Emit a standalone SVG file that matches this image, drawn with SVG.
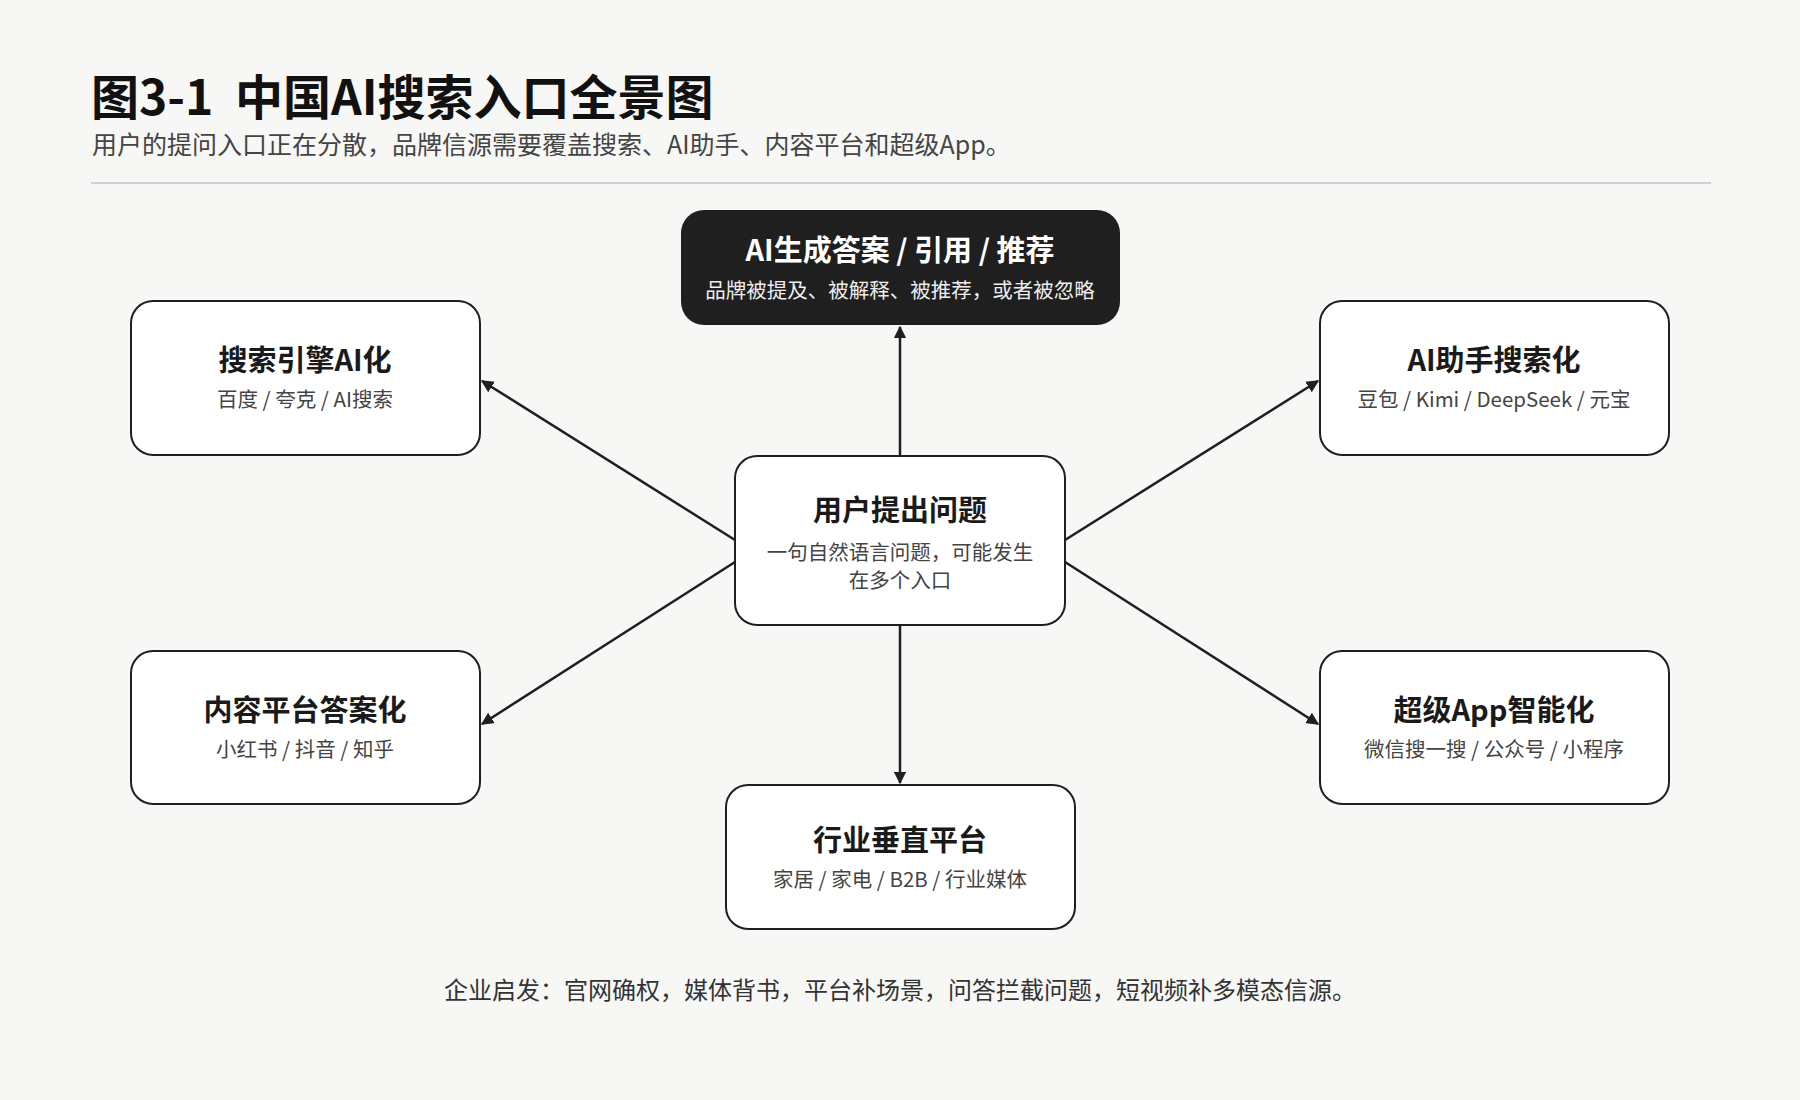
<svg xmlns="http://www.w3.org/2000/svg" width="1800" height="1100" viewBox="0 0 1800 1100">
<defs>
<style>
text{font-family:"Noto Sans CJK SC","Noto Sans",sans-serif;text-anchor:middle}
.box{fill:#fff;stroke:#1f1f1f;stroke-width:2}
.t{font-size:29px;font-weight:700;fill:#1a1a1a}
.s{font-size:20.5px;fill:#444}
.c line{stroke:#1f1f1f;stroke-width:2.5;marker-end:url(#a)}
</style>
<marker id="a" viewBox="0 0 10 10" refX="9" refY="5" markerWidth="5" markerHeight="5" orient="auto"><path d="M0,0L10,5L0,10z" fill="#1f1f1f"/></marker>
</defs>
<rect width="1800" height="1100" fill="#f7f7f5"/>
<text x="91" y="115" style="text-anchor:start;font-size:48px;font-weight:700;fill:#111">图3-1<tspan x="235">中国AI搜索入口全景图</tspan></text>
<text x="92" y="154" style="text-anchor:start;font-size:25px;fill:#444">用户的提问入口正在分散，品牌信源需要覆盖搜索、AI助手、内容平台和超级App。</text>
<line x1="91" y1="183" x2="1711" y2="183" stroke="#d0d0d0" stroke-width="2"/>
<g class="c">
<line x1="900" y1="456" x2="900" y2="327"/>
<line x1="900" y1="625" x2="900" y2="783"/>
<line x1="735" y1="540" x2="482" y2="381"/>
<line x1="735" y1="562" x2="482" y2="724"/>
<line x1="1065" y1="540" x2="1318" y2="381"/>
<line x1="1065" y1="562" x2="1318" y2="724"/>
</g>
<g id="top"><rect x="681" y="210" width="439" height="115" rx="23" fill="#1f1f1f"/>
<text x="900" y="261" class="t" style="fill:#fff">AI生成答案 / 引用 / 推荐</text>
<text x="900" y="298" class="s" style="fill:#eee">品牌被提及、被解释、被推荐，或者被忽略</text></g>
<g id="search"><rect class="box" x="131" y="301" width="349" height="154" rx="22"/>
<text x="305" y="371" class="t">搜索引擎AI化</text><text x="305" y="407" class="s">百度 / 夸克 / AI搜索</text></g>
<g id="assistant"><rect class="box" x="1320" y="301" width="349" height="154" rx="22"/>
<text x="1494" y="371" class="t">AI助手搜索化</text><text x="1494" y="407" class="s">豆包 / Kimi / DeepSeek / 元宝</text></g>
<g id="center"><rect class="box" x="735" y="456" width="330" height="169" rx="22"/>
<text x="900" y="521" class="t">用户提出问题</text><text x="900" y="560" class="s">一句自然语言问题，可能发生</text><text x="900" y="588" class="s">在多个入口</text></g>
<g id="content"><rect class="box" x="131" y="651" width="349" height="153" rx="22"/>
<text x="305" y="721" class="t">内容平台答案化</text><text x="305" y="757" class="s">小红书 / 抖音 / 知乎</text></g>
<g id="superapp"><rect class="box" x="1320" y="651" width="349" height="153" rx="22"/>
<text x="1494" y="721" class="t">超级App智能化</text><text x="1494" y="757" class="s">微信搜一搜 / 公众号 / 小程序</text></g>
<g id="vertical"><rect class="box" x="726" y="785" width="349" height="144" rx="22"/>
<text x="900" y="851" class="t">行业垂直平台</text><text x="900" y="887" class="s">家居 / 家电 / B2B / 行业媒体</text></g>
<text x="900" y="999" style="font-size:24px;fill:#333">企业启发：官网确权，媒体背书，平台补场景，问答拦截问题，短视频补多模态信源。</text>
</svg>
